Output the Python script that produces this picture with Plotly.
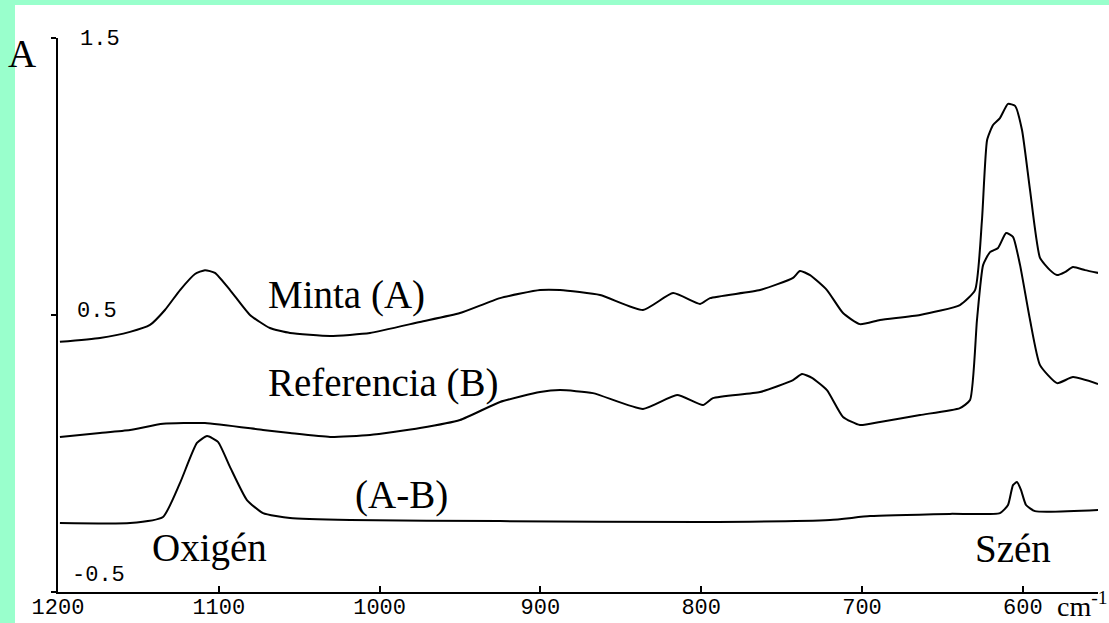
import plotly.graph_objects as go

# ---- data (wavenumber cm-1, absorbance) ----
wn_a = [1198.8, 1173.9, 1155.2, 1142.8, 1133.5, 1124.1, 1114.8, 1108.6, 1102.4, 1093.0,
        1080.6, 1068.2, 1055.7, 1030.8, 1006.0, 974.9, 950.0, 925.1, 900.2, 887.8,
        862.9, 836.2, 817.5, 800.7, 794.5, 763.4, 742.9, 738.6, 732.3, 721.8,
        711.8, 701.3, 688.8, 663.9, 639.1, 629.7, 625.4, 622.2, 618.5, 614.2,
        609.2, 604.8, 600.5, 595.5, 589.3, 583.1, 578.7, 573.8, 568.8, 561.3, 553.2]
abs_a = [0.403, 0.417, 0.439, 0.464, 0.518, 0.590, 0.648, 0.662, 0.652, 0.590,
         0.500, 0.453, 0.435, 0.424, 0.435, 0.475, 0.507, 0.561, 0.590, 0.590,
         0.572, 0.518, 0.579, 0.540, 0.561, 0.590, 0.634, 0.659, 0.644, 0.590,
         0.507, 0.467, 0.482, 0.500, 0.536, 0.590, 0.843, 1.132, 1.186, 1.211,
         1.262, 1.255, 1.168, 0.951, 0.706, 0.662, 0.644, 0.655, 0.673, 0.662, 0.652]

wn_b = [1198.8, 1173.9, 1155.2, 1134.7, 1108.6, 1072.5, 1055.7, 1030.8, 1006.0, 974.9,
        950.0, 925.1, 900.2, 887.8, 867.3, 836.2, 815.0, 798.9, 792.7, 763.4,
        742.9, 737.3, 731.1, 721.8, 711.8, 701.3, 688.8, 663.9, 639.1, 632.8,
        628.5, 624.7, 620.4, 615.4, 610.4, 606.1, 601.7, 595.5, 589.3, 578.7,
        568.8, 553.2]
abs_b = [0.060, 0.074, 0.085, 0.107, 0.110, 0.085, 0.074, 0.060, 0.067, 0.092,
         0.121, 0.186, 0.222, 0.229, 0.218, 0.161, 0.211, 0.175, 0.200, 0.222,
         0.265, 0.287, 0.273, 0.229, 0.132, 0.103, 0.114, 0.139, 0.164, 0.193,
         0.482, 0.680, 0.727, 0.742, 0.796, 0.782, 0.680, 0.482, 0.319, 0.254,
         0.276, 0.251]

wn_d = [1198.8, 1155.2, 1134.7, 1124.1, 1113.6, 1107.3, 1100.5, 1093.0, 1082.5, 1072.5,
        1055.7, 1018.4, 925.1, 800.7, 719.9, 695.0, 645.3, 614.2, 609.2, 606.1,
        603.6, 601.1, 598.0, 592.4, 553.2]
abs_d = [-0.251, -0.251, -0.229, -0.106, 0.038, 0.063, 0.042, -0.049, -0.168, -0.215,
         -0.233, -0.240, -0.244, -0.247, -0.240, -0.226, -0.218, -0.215, -0.186, -0.114,
         -0.103, -0.132, -0.186, -0.208, -0.204]

x_ticks = [1200, 1100, 1000, 900, 800, 700, 600]
x_tick_text = ["1200", "1100", "1000", "900", "800", "700", "600"]
y_ticks = [-0.5, 0.5, 1.5]
y_tick_text = ["-0.5", "0.5", "1.5"]

W, H = 1109, 623
L, R, T, B = 58, 11, 38, 31
PW, PH = W - L - R, H - T - B


def px(xp):
    return (xp - L) / PW


def py(yp):
    return (H - B - yp) / PH


fig = go.Figure()
for xs, ys in [(wn_a, abs_a), (wn_b, abs_b), (wn_d, abs_d)]:
    fig.add_trace(go.Scatter(x=xs, y=ys, mode="lines",
                             line=dict(color="black", width=2, shape="spline", smoothing=0.5),
                             showlegend=False, hoverinfo="skip"))

mono = dict(family="Liberation Mono, DejaVu Sans Mono, monospace", size=22, color="black")
mono_y = dict(family="Liberation Mono, DejaVu Sans Mono, monospace", size=22, color="black")
serif = dict(family="Liberation Serif, Times New Roman, serif", size=39, color="black")

annotations = []
for v, t in zip(y_ticks, y_tick_text):
    shift = 17 if v == -0.5 else (4 if v == 0.5 else -1)
    xstart = 70 if v == -0.5 else (75 if v == 0.5 else 78)
    annotations.append(dict(x=px(xstart), xref="paper", y=v, yref="y", text=t, showarrow=False,
                            xanchor="left", yanchor="middle", yshift=shift, font=mono_y))

labels = [("Minta (A)", 266, 295), ("Referencia (B)", 266, 383), ("(A-B)", 353, 495),
          ("Oxigén", 150, 548), ("Szén", 973, 548)]
for t, xp, yp in labels:
    annotations.append(dict(x=px(xp), y=py(yp), xref="paper", yref="paper", text=t,
                            showarrow=False, xanchor="left", yanchor="middle", font=serif))
annotations.append(dict(x=px(6), y=py(53), xref="paper", yref="paper", text="A",
                        showarrow=False, xanchor="left", yanchor="middle", font=serif))
annotations.append(dict(x=px(1055), y=py(605), xref="paper", yref="paper", text="cm<sup>-1</sup>",
                        showarrow=False, xanchor="left", yanchor="middle",
                        font=dict(family="Liberation Serif, serif", size=28, color="black")))

green = "#99FFCC"
fig.update_layout(
    width=W, height=H,
    margin=dict(l=L, r=R, t=T, b=B, autoexpand=False),
    paper_bgcolor="white",
    plot_bgcolor="white",
    shapes=[dict(type="rect", xref="paper", yref="paper",
                 x0=px(-5), x1=px(W + 5), y0=py(5), y1=py(-5),
                 fillcolor=green, line=dict(width=0), layer="below"),
            dict(type="rect", xref="paper", yref="paper",
                 x0=px(-5), x1=px(15), y0=py(H + 5), y1=py(-5),
                 fillcolor=green, line=dict(width=0), layer="below")],
    annotations=annotations,
    xaxis=dict(range=[1200, 1200 - PW / 1.608], showline=True, linecolor="black", linewidth=2,
               ticks="inside", ticklen=6, tickwidth=1.5, tickcolor="black",
               tickvals=x_ticks, ticktext=x_tick_text, tickfont=mono,
               ticklabelstandoff=-6,
               showgrid=False, zeroline=False, automargin=False),
    yaxis=dict(range=[-0.5, 1.5], showline=True, linecolor="black", linewidth=2,
               ticks="outside", ticklen=5, tickwidth=1.5, tickcolor="black",
               tickvals=y_ticks, showticklabels=False,
               showgrid=False, zeroline=False, automargin=False),
)

fig.write_html("out.html")
